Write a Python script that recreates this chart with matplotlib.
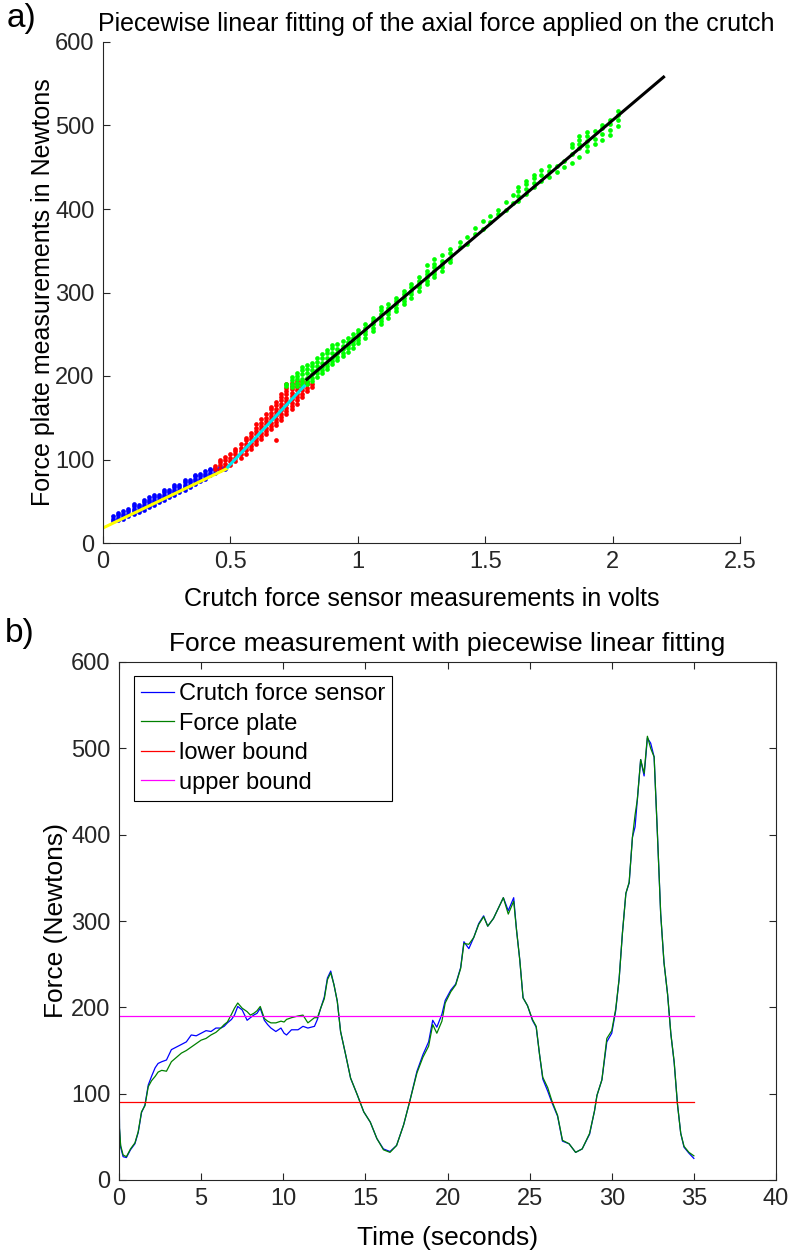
import matplotlib
matplotlib.use("Agg")
import matplotlib.pyplot as plt
import numpy as np

plt.rcParams['font.family'] = ['Liberation Sans', 'DejaVu Sans']

# ---- a) scatter of crutch sensor volts vs force plate newtons (columns of points) ----
blue_cols = [0.04, 0.06, 0.08, 0.10, 0.12, 0.14, 0.16, 0.18, 0.20, 0.22, 0.24, 0.26,
             0.28, 0.30, 0.32, 0.34, 0.36, 0.38, 0.40, 0.42, 0.44, 0.46, 0.48]
blue_vals = [[26, 29, 32], [27, 30, 33, 36], [29, 32, 35, 38], [32, 35, 38, 41],
             [35, 38, 41, 44, 47], [37, 40, 43, 46], [40, 43, 46, 49, 52], [43, 46, 49, 52, 55],
             [46, 49, 52, 55, 58], [49, 52, 55, 58], [52, 55, 58, 61, 64], [55, 58, 61, 64],
             [58, 61, 64, 67, 70], [61, 64, 67, 70], [64, 67, 70, 73, 76], [67, 70, 73, 76],
             [71, 74, 77, 80, 82], [74, 77, 80, 83], [77, 80, 83, 86], [81, 84, 87, 89],
             [84, 87, 90], [87, 89, 91], [89, 91]]

red_cols = [0.44, 0.46, 0.48, 0.50, 0.52, 0.54, 0.56, 0.58, 0.60, 0.62, 0.64, 0.66,
            0.68, 0.70, 0.72, 0.74, 0.76, 0.78, 0.80, 0.82]
red_vals = [[89, 92], [89, 93, 97, 100], [91, 95, 99, 103], [94, 98, 102, 106],
            [98, 102, 106, 110, 113], [102, 106, 110, 114, 118], [107, 111, 115, 119, 123, 126],
            [112, 116, 120, 124, 128, 132], [118, 122, 126, 130, 134, 138, 142],
            [124, 128, 132, 136, 140, 144, 149], [130, 134, 138, 142, 146, 150, 155],
            [136, 140, 144, 148, 152, 156, 160, 163], [123, 141, 145, 149, 153, 157, 161, 165, 169],
            [147, 151, 155, 159, 163, 167, 171, 175, 178],
            [154, 158, 162, 166, 170, 174, 178, 182, 186, 190],
            [160, 164, 168, 172, 176, 180, 184, 188, 192], [167, 171, 175, 179, 183, 187, 191, 194],
            [175, 179, 183, 187, 191, 194], [182, 186, 190, 193], [187, 191]]

green_cols = [0.72, 0.74, 0.76, 0.78, 0.80, 0.82, 0.84, 0.86, 0.88, 0.90, 0.92, 0.94,
              0.96, 0.98, 1.00, 1.03, 1.06, 1.09, 1.12, 1.15, 1.18, 1.21, 1.24, 1.27,
              1.30, 1.33, 1.36, 1.40, 1.43, 1.46, 1.49, 1.52, 1.55, 1.58, 1.61, 1.63,
              1.66, 1.69, 1.72, 1.75, 1.78, 1.81, 1.84, 1.87, 1.90, 1.93, 1.96, 1.99, 2.02]
green_vals = [[188, 191], [187, 191, 195, 199], [188, 192, 196, 200, 204],
              [189, 193, 197, 202, 207, 211], [190, 194, 198, 203, 208, 213],
              [194, 198, 202, 207, 212, 216], [199, 203, 207, 212, 217, 221],
              [203, 207, 211, 216, 222, 226], [208, 212, 216, 221, 227, 231],
              [214, 218, 222, 227, 233, 237], [219, 223, 227, 232, 238],
              [224, 228, 232, 236, 242], [229, 233, 237, 241, 245], [234, 238, 242, 246, 250],
              [239, 243, 247, 251, 255], [246, 250, 254, 258, 262], [254, 258, 262, 266, 270],
              [262, 266, 270, 274, 279, 283], [270, 274, 278, 282, 286], [278, 282, 286, 290, 294],
              [286, 290, 294, 298, 302], [294, 298, 302, 306, 310], [302, 306, 310, 314, 318],
              [310, 314, 318, 322, 326, 333], [318, 322, 326, 330, 334, 340],
              [326, 330, 334, 338, 345], [336, 340, 347, 352], [355, 361], [358, 366],
              [370, 377], [376, 386], [384, 392], [394, 399], [399, 408], [407, 417],
              [410, 415, 421, 426], [418, 424, 430, 434], [426, 431, 437, 441], [433, 441, 447],
              [438, 446, 452], [444, 451], [450, 458], [455, 466, 474, 478],
              [462, 473, 478, 483, 487], [470, 476, 482, 488, 492], [478, 484, 493],
              [483, 490, 497, 501], [489, 495, 502, 507], [499, 507, 513, 517]]

# fitted pieces (endpoints)
fit1_x, fit1_y = [0.0, 0.486], [18, 89]
fit2_x, fit2_y = [0.49, 0.79], [91, 188]
fit3_x, fit3_y = [0.80, 2.20], [196, 558]

# ---- b) time series ----
t = [0.00, 0.03, 0.10, 0.25, 0.45, 0.70, 0.97, 1.17, 1.37, 1.58, 1.78, 1.98, 2.20, 2.38,
     2.60, 2.89, 3.19, 3.50, 3.80, 4.10, 4.40, 4.70, 5.00, 5.30, 5.60, 5.90, 6.20, 6.40,
     6.60, 6.85, 7.03, 7.23, 7.50, 7.80, 8.00, 8.20, 8.40, 8.60, 8.85, 9.05, 9.25, 9.55,
     9.86, 10.05, 10.20, 10.50, 10.90, 11.20, 11.50, 11.90, 12.08, 12.28, 12.50, 12.69,
     12.89, 13.09, 13.29, 13.49, 13.80, 14.10, 14.50, 14.90, 15.30, 15.70, 16.10, 16.50,
     16.90, 17.33, 17.70, 18.14, 18.50, 18.85, 19.10, 19.35, 19.66, 19.86, 20.20, 20.50,
     20.80, 21.00, 21.30, 21.60, 21.90, 22.20, 22.45, 22.80, 23.10, 23.40, 23.70, 24.03,
     24.20, 24.40, 24.60, 24.87, 25.17, 25.40, 25.60, 25.80, 26.10, 26.35, 26.70, 27.00,
     27.40, 27.80, 28.20, 28.65, 28.95, 29.10, 29.40, 29.70, 30.00, 30.24, 30.45, 30.65,
     30.86, 31.06, 31.26, 31.42, 31.56, 31.76, 31.97, 32.17, 32.37, 32.58, 32.78, 32.98,
     33.18, 33.40, 33.60, 33.80, 34.00, 34.20, 34.40, 34.70, 35.00]
crutch = [150, 60, 38, 27, 26, 35, 42, 55, 78, 87, 110, 120, 130, 135,
          137, 139, 151, 154, 157, 160, 168, 167, 170, 173, 172, 176, 176, 178,
          182, 186, 191, 201, 197, 185, 188, 191, 193, 199, 185, 180, 176, 172,
          176, 170, 168, 174, 174, 178, 176, 178, 186, 199, 212, 234,
          242, 226, 207, 172, 145, 118, 99, 79, 67, 48, 36, 33,
          40, 64, 91, 126, 145, 160, 185, 177, 192, 208, 220, 227,
          246, 276, 268, 281, 297, 306, 294, 303, 315, 327, 312, 327,
          290, 255, 211, 202, 185, 177, 146, 117, 103, 90, 74, 45,
          42, 32, 36, 53, 80, 98, 116, 160, 170, 196, 233, 286,
          332, 344, 397, 409, 441, 487, 468, 512, 506, 490, 401, 308,
          252, 215, 169, 136, 88, 54, 38, 31, 25]
plate = [120, 60, 40, 29, 27, 36, 43, 56, 79, 86, 108, 115, 120, 125,
         127, 126, 137, 142, 147, 150, 154, 158, 162, 164, 168, 171, 176, 180,
         183, 192, 199, 205, 199, 195, 191, 193, 196, 201, 187, 184, 182, 182,
         184, 183, 186, 188, 190, 191, 182, 188, 188, 199, 210, 232,
         240, 226, 207, 172, 145, 118, 99, 79, 67, 48, 35, 32,
         40, 64, 91, 124, 142, 155, 180, 170, 184, 205, 218, 226,
         245, 274, 273, 281, 296, 305, 294, 303, 315, 327, 308, 323,
         290, 255, 211, 202, 186, 178, 146, 119, 107, 92, 75, 46,
         42, 32, 36, 54, 80, 98, 116, 164, 173, 198, 233, 286,
         332, 345, 397, 423, 441, 487, 471, 514, 500, 490, 401, 308,
         252, 215, 169, 137, 88, 54, 39, 32, 28]
bound_t = [0, 35]
lower_bound = 90
upper_bound = 190


def flatten(cols, vals):
    xs, ys = [], []
    for x, col in zip(cols, vals):
        for y in col:
            xs.append(x)
            ys.append(y)
    return xs, ys


fig = plt.figure(figsize=(7.94, 12.52), dpi=100)
dark = '#262626'

# ---------- top panel ----------
ax1 = fig.add_axes([103 / 794, 1 - 543 / 1252, 637 / 794, 501 / 1252])
for cols, vals, c in [(blue_cols, blue_vals, '#0000ff'), (red_cols, red_vals, '#ff0000'),
                      (green_cols, green_vals, '#00ff00')]:
    xs, ys = flatten(cols, vals)
    ax1.plot(xs, ys, linestyle='none', marker='o', markersize=3.4, markeredgewidth=0, color=c)
ax1.plot(fit1_x, fit1_y, color='#ffff00', lw=2.2)
ax1.plot(fit2_x, fit2_y, color='#00e5f0', lw=2.2)
ax1.plot(fit3_x, fit3_y, color='black', lw=2.2)
ax1.set_xlim(0, 2.5)
ax1.set_ylim(0, 600)
ax1.set_xticks([0, 0.5, 1, 1.5, 2, 2.5])
ax1.set_xticklabels(['0', '0.5', '1', '1.5', '2', '2.5'])
ax1.set_yticks(range(0, 601, 100))
ax1.spines['top'].set_visible(False)
ax1.spines['right'].set_visible(False)
for s in ax1.spines.values():
    s.set_color(dark)
ax1.tick_params(direction='in', labelsize=17, colors=dark, length=5, pad=6)
ax1.set_xlabel('Crutch force sensor measurements in volts', fontsize=18, color='black',
               labelpad=10)
ax1.set_ylabel('Force plate measurements in Newtons', fontsize=18, color='black',
               labelpad=0)
ax1.set_title('Piecewise linear fitting of the axial force applied on the crutch',
              fontsize=18, x=0.523, pad=8)

# ---------- bottom panel ----------
ax2 = fig.add_axes([119 / 794, 1 - 1180 / 1252, 657 / 794, 518 / 1252])
ax2.plot(t, crutch, color='#0000ff', lw=0.9, label='Crutch force sensor')
ax2.plot(t, plate, color='#008000', lw=0.9, label='Force plate')
ax2.plot(bound_t, [lower_bound] * 2, color='#ff0000', lw=0.9, label='lower bound')
ax2.plot(bound_t, [upper_bound] * 2, color='#ff00ff', lw=0.9, label='upper bound')
ax2.set_xlim(0, 40)
ax2.set_ylim(0, 600)
ax2.set_xticks(range(0, 41, 5))
ax2.set_yticks(range(0, 601, 100))
for s in ax2.spines.values():
    s.set_color(dark)
ax2.tick_params(direction='in', labelsize=17, colors=dark, length=5, pad=6,
                top=True, right=True)
ax2.set_xlabel('Time (seconds)', fontsize=19, color='black', labelpad=11)
ax2.set_ylabel('Force (Newtons)', fontsize=19, color='black', labelpad=2)
ax2.set_title('Force measurement with piecewise linear fitting', fontsize=19, pad=8)
leg = ax2.legend(loc='upper left', bbox_to_anchor=(0.023, 0.973), fontsize=17,
                 fancybox=False, edgecolor='black', framealpha=1, handlelength=1.4,
                 labelspacing=0.32, borderpad=0.3, handletextpad=0.2, borderaxespad=0)
leg.get_frame().set_linewidth(0.8)

fig.text(0.008, 0.998, 'a)', fontsize=24, va='top', ha='left')
fig.text(0.006, 0.506, 'b)', fontsize=24, va='top', ha='left')

fig.savefig('out.png', dpi=100)
